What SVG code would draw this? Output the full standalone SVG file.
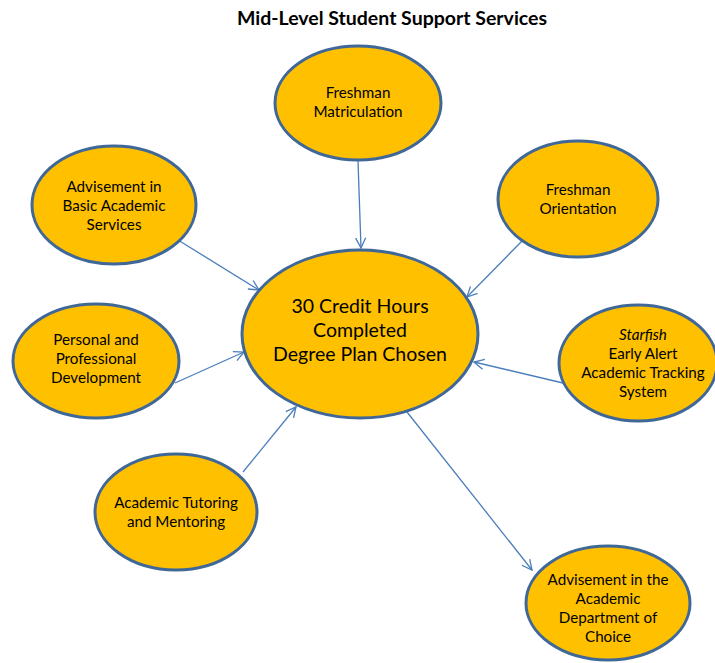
<svg xmlns="http://www.w3.org/2000/svg" width="715" height="663" viewBox="0 0 715 663">
<style>
.node ellipse{fill:#FFC000;stroke:#3F6797;stroke-width:3}
.t{font-family:Lato,"Liberation Sans",sans-serif;font-size:15.2px;fill:#000;text-anchor:middle}
.big{font-size:19.5px}
.title{font-family:Lato,"Liberation Sans",sans-serif;font-size:19.5px;font-weight:bold;text-anchor:middle}
.edges line{stroke:#4A7EBB;stroke-width:1.3;fill:none;marker-end:url(#arr)}
</style>
<defs>
<marker id="arr" viewBox="0 0 12 12" refX="11" refY="6" markerWidth="12" markerHeight="12" markerUnits="userSpaceOnUse" orient="auto">
<path d="M1,1 L11,6 L1,11" fill="none" stroke="#4A7EBB" stroke-width="1.3"/>
</marker>
</defs>
<rect width="715" height="663" fill="#fff"/>
<text class="title" x="392" y="25">Mid-Level Student Support Services</text>
<g class="edges">
<line x1="358" y1="161" x2="361" y2="248"/>
<line x1="178" y1="240" x2="259" y2="290"/>
<line x1="523" y1="240" x2="467" y2="297"/>
<line x1="175" y1="383" x2="244" y2="352"/>
<line x1="563" y1="383" x2="474" y2="362"/>
<line x1="243" y1="472" x2="296" y2="407"/>
<line x1="407" y1="412" x2="532" y2="570"/>
</g>
<g id="center" class="node"><ellipse cx="360" cy="334" rx="118" ry="84"/>
<text class="t big" x="360" y="313">30 Credit Hours</text>
<text class="t big" x="360" y="337">Completed</text>
<text class="t big" x="360" y="361">Degree Plan Chosen</text></g>
<g id="matriculation" class="node"><ellipse cx="358" cy="103" rx="83" ry="57"/>
<text class="t" x="358" y="98">Freshman</text>
<text class="t" x="358" y="117">Matriculation</text></g>
<g id="basic" class="node"><ellipse cx="114" cy="205" rx="82" ry="59"/>
<text class="t" x="114" y="192">Advisement in</text>
<text class="t" x="114" y="211">Basic Academic</text>
<text class="t" x="114" y="230">Services</text></g>
<g id="orientation" class="node"><ellipse cx="578" cy="199" rx="80" ry="58"/>
<text class="t" x="578" y="195">Freshman</text>
<text class="t" x="578" y="214">Orientation</text></g>
<g id="personal" class="node"><ellipse cx="96" cy="361" rx="83" ry="57"/>
<text class="t" x="96" y="345">Personal and</text>
<text class="t" x="96" y="364">Professional</text>
<text class="t" x="96" y="383">Development</text></g>
<g id="starfish" class="node"><ellipse cx="638" cy="363" rx="79" ry="58"/>
<text class="t" x="643" y="340" font-style="italic">Starfish</text>
<text class="t" x="643" y="359">Early Alert</text>
<text class="t" x="643" y="378">Academic Tracking</text>
<text class="t" x="643" y="397">System</text></g>
<g id="tutoring" class="node"><ellipse cx="176" cy="512" rx="81" ry="58"/>
<text class="t" x="176" y="508">Academic Tutoring</text>
<text class="t" x="176" y="527">and Mentoring</text></g>
<g id="department" class="node"><ellipse cx="608" cy="603" rx="82" ry="57"/>
<text class="t" x="608" y="585">Advisement in the</text>
<text class="t" x="608" y="604">Academic</text>
<text class="t" x="608" y="623">Department of</text>
<text class="t" x="608" y="642">Choice</text></g>
</svg>
